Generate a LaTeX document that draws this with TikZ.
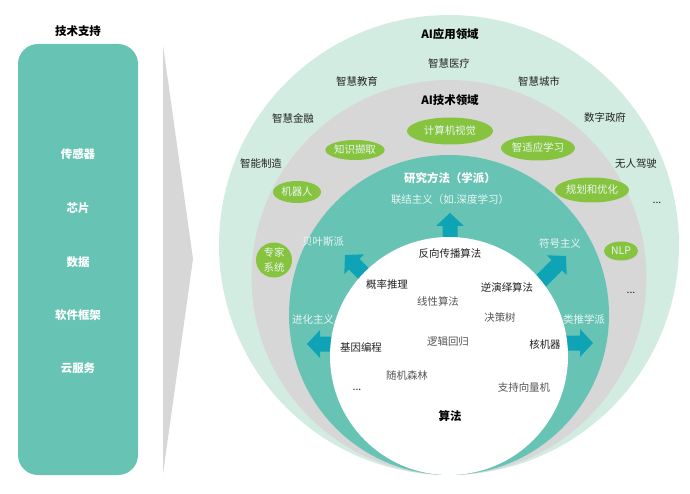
\documentclass[tikz,border=0pt]{standalone}
\usepackage{fontspec}
\setmainfont{Noto Sans CJK SC}
\definecolor{outerc}{HTML}{D2ECE2}
\definecolor{grayc}{HTML}{D7D7D7}
\definecolor{tealc}{HTML}{67C4B5}
\definecolor{greenc}{HTML}{86C440}
\definecolor{arrowc}{HTML}{0FA3B6}
\definecolor{softc}{HTML}{EAF6F3}
\definecolor{midgray}{HTML}{555555}
\definecolor{darkc}{HTML}{222222}
\tikzset{
  lbl/.style={font=\fontsize{10.5}{12}\selectfont, text=darkc, inner sep=0pt},
  ttl/.style={font=\fontsize{11.5}{13}\selectfont\bfseries, text=black, inner sep=0pt},
  panelitem/.style={font=\fontsize{11.5}{13}\selectfont\bfseries, text=white, inner sep=0pt},
  pill/.style={ellipse, fill=greenc, text=softc, inner sep=0pt, font=\fontsize{10.5}{12}\selectfont},
  tealtxt/.style={font=\fontsize{10.5}{12}\selectfont, text=softc, inner sep=0pt},
  algb/.style={font=\fontsize{10.5}{12}\selectfont, text=darkc, inner sep=0pt},
  algg/.style={font=\fontsize{10.5}{12}\selectfont, text=midgray, inner sep=0pt},
}
\usetikzlibrary{shapes.geometric}
\newcommand{\myarrow}[3]{% tip x, tip y, visual direction angle
  \begin{scope}[shift={(#1,#2)}, rotate=#3]
    \fill[arrowc] (0,0) -- (-13,-14) -- (-13,-7.5) -- (-38,-7.5) -- (-38,7.5) -- (-13,7.5) -- (-13,14) -- cycle;
  \end{scope}}
\begin{document}
\begin{tikzpicture}[x=1bp,y=-1bp]
\useasboundingbox (0,0) rectangle (690,494);
% left panel
\node[ttl] (ts) at (78,31) {技术支持};
\fill[tealc, rounded corners=20bp] (18,44) rectangle (138,475);
\node[panelitem] (p1) at (78,154) {传感器};
\node[panelitem] (p2) at (78,208) {芯片};
\node[panelitem] (p3) at (78,262) {数据};
\node[panelitem] (p4) at (78,315) {软件框架};
\node[panelitem] (p5) at (78,368) {云服务};
% wedge
\fill[grayc] (163,45) -- (193,259) -- (163,474) -- cycle;
% circles
\fill[outerc] (449,245) circle[radius=230];
\fill[grayc] (449,277.5) circle[radius=197.5];
\fill[tealc] (449,315) circle[radius=160];
% arrows
\myarrow{450}{213}{90}
\myarrow{345}{255}{135}
\myarrow{566}{256}{45}
\myarrow{307}{344}{180}
\myarrow{593}{343}{0}
\fill[white] (449,356) circle[radius=119];
% application domain
\node[ttl] (app) at (450,34) {AI应用领域};
\node[lbl] (a1) at (449,64) {智慧医疗};
\node[lbl] (a2) at (357,82) {智慧教育};
\node[lbl] (a3) at (539,82) {智慧城市};
\node[lbl] (a4) at (293,118) {智慧金融};
\node[lbl] (a5) at (605,118) {数字政府};
\node[lbl] (a6) at (261,164) {智能制造};
\node[lbl] (a7) at (636,164) {无人驾驶};
\node[lbl] (a8) at (657,203) {...};
\node[lbl] (a9) at (631,293) {...};
% technology domain
\node[ttl] (tech) at (450,100) {AI技术领域};
\node[pill, minimum width=86bp, minimum height=27bp] (t1) at (450,131) {计算机视觉};
\node[pill, minimum width=57bp, minimum height=20bp] (t2) at (355,150) {知识撷取};
\node[pill, minimum width=66bp, minimum height=25bp] (t3) at (538,148) {智适应学习};
\node[pill, minimum width=48bp, minimum height=22bp] (t4) at (297,192) {机器人};
\node[pill, minimum width=62bp, minimum height=25bp] (t5) at (592,190) {规划和优化};
\node[pill, minimum width=36bp, minimum height=35bp, align=center, font=\fontsize{10.5}{15}\selectfont] (t6) at (274,260) {专家\\系统};
\node[pill, minimum width=34bp, minimum height=19bp] (t7) at (621,251) {NLP};
% research methods
\node[ttl, text=white] (rm) at (450,178) {研究方法（学派）};
\node[tealtxt] (r1) at (450,200) {联结主义（如.深度学习）};
\node[tealtxt] (r2) at (323,242) {贝叶斯派};
\node[tealtxt] (r3) at (560,244) {符号主义};
\node[tealtxt] (r4) at (313,320) {进化主义};
\node[tealtxt] (r5) at (584,320) {类推学派};
% algorithms
\node[algb] (g1) at (450,254) {反向传播算法};
\node[algb] (g2) at (387,285) {概率推理};
\node[algb] (g3) at (507,287) {逆演绎算法};
\node[algg] (g4) at (438,302) {线性算法};
\node[algg] (g5) at (500,318) {决策树};
\node[algb] (g6) at (361,347) {基因编程};
\node[algg] (g7) at (448,342) {逻辑回归};
\node[algb] (g8) at (545,345) {核机器};
\node[algg] (g9) at (407,376) {随机森林};
\node[algb] (g10) at (357,390) {...};
\node[algg] (g11) at (524,388) {支持向量机};
\node[ttl] (alg) at (450,416) {算法};
\end{tikzpicture}
\end{document}
